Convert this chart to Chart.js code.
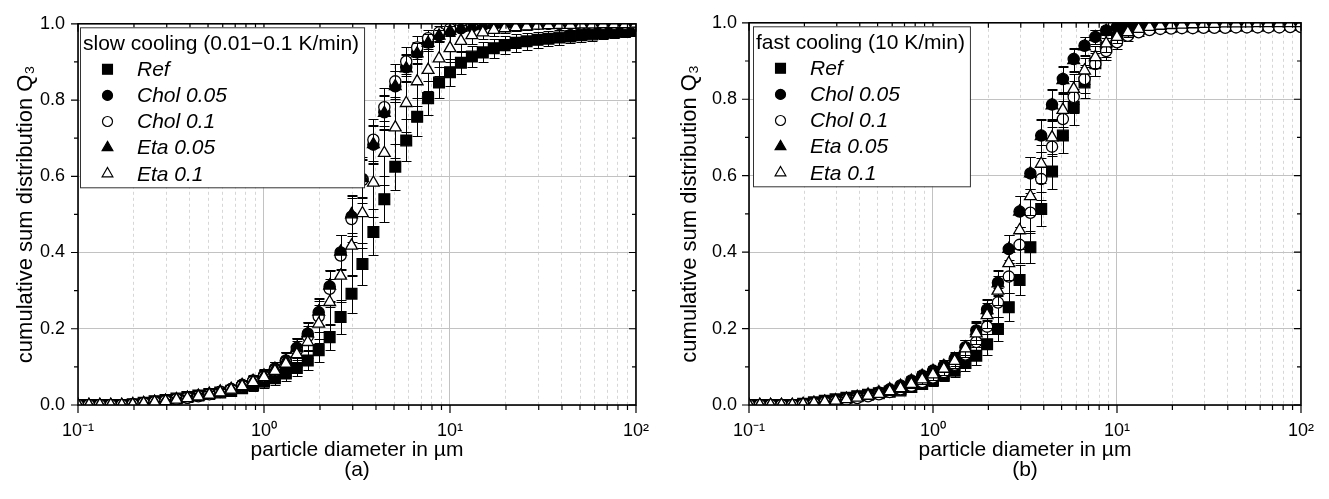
<!DOCTYPE html>
<html>
<head>
<meta charset="utf-8">
<script src="https://cdn.jsdelivr.net/npm/chart.js@4.4.0/dist/chart.umd.min.js"></script>
<style>
  html, body { margin: 0; padding: 0; background: #fff; }
  #wrap { position: relative; width: 1329px; height: 499px; }
  .panel { position: absolute; top: 0; }
  #panelA { left: 0; }
  #panelB { left: 664px; }
</style>
</head>
<body>
<div id="wrap">
  <div class="panel" id="panelA"><canvas id="chartA" width="664" height="499"></canvas></div>
  <div class="panel" id="panelB"><canvas id="chartB" width="665" height="499"></canvas></div>
</div>
<script>
// particle size classes (µm), 17 per decade
const sizes = [
  0.1, 0.1145, 0.1311, 0.1501, 0.1719, 0.1968, 0.2254, 0.2581, 0.2955, 0.3383, 0.3874, 0.4436, 0.508,
  0.5817, 0.666, 0.7627, 0.8733, 1.0, 1.145, 1.311, 1.501, 1.719, 1.968, 2.254, 2.581, 2.955,
  3.383, 3.874, 4.436, 5.08, 5.817, 6.66, 7.627, 8.733, 10.0, 11.45, 13.11, 15.01, 17.19,
  19.68, 22.54, 25.81, 29.55, 33.83, 38.74, 44.36, 50.8, 58.17, 66.6, 76.27, 87.33, 100.0
];

const seriesNames = ['Ref', 'Chol 0.05', 'Chol 0.1', 'Eta 0.05', 'Eta 0.1'];

// (a) slow cooling
const refA = [0,0,0,0,0,0.002, 0.006,0.010,0.013,0.017,0.021,0.025,0.029,0.033,0.037,0.044,0.052,
  0.061,0.070,0.083,0.097,0.117,0.144,0.178,0.231,0.292,0.370,0.454,
  0.540,0.625,0.694,0.756,0.805,0.846,0.873,0.898,0.914,0.925,0.936,
  0.944,0.950,0.954,0.958,0.961,0.964,0.967,0.970,0.972,0.975,0.977,0.979,0.981];
const chol05A = [0,0,0,0,0,0.002, 0.005,0.008,0.011,0.015,0.019,0.024,0.029,0.035,0.042,0.053,0.064,
  0.078,0.096,0.117,0.150,0.187,0.243,0.311,0.400,0.494,0.593,0.683,
  0.768,0.836,0.886,0.925,0.951,0.970,0.981,0.988,0.993,0.996,0.998,
  0.999,1,1,1,1,1,1,1,1,1,1,1,1];
const chol1A = [0,0,0,0,0,0.002, 0.005,0.008,0.011,0.015,0.019,0.023,0.028,0.034,0.041,0.051,0.062,
  0.075,0.092,0.113,0.143,0.180,0.232,0.305,0.392,0.488,0.590,0.696,
  0.781,0.849,0.901,0.938,0.962,0.977,0.987,0.993,0.996,0.998,0.999,
  1,1,1,1,1,1,1,1,1,1,1,1,1];
const eta05A = [0,0,0,0,0,0.002, 0.005,0.008,0.011,0.015,0.019,0.024,0.029,0.035,0.042,0.052,0.063,
  0.077,0.095,0.116,0.149,0.188,0.245,0.313,0.402,0.500,0.595,0.684,
  0.766,0.836,0.883,0.922,0.950,0.969,0.981,0.989,0.994,0.997,0.998,
  0.999,1,1,1,1,1,1,1,1,1,1,1,1];
const eta1A = [0,0,0,0,0,0.001, 0.004,0.007,0.010,0.014,0.018,0.022,0.027,0.033,0.040,0.049,0.060,
  0.073,0.089,0.108,0.133,0.165,0.213,0.270,0.339,0.418,0.503,0.583,
  0.661,0.728,0.792,0.849,0.879,0.909,0.936,0.955,0.970,0.977,0.984,
  0.988,0.991,0.993,0.995,0.996,0.997,0.997,0.998,0.998,0.999,0.999,0.999,1];

const errRefA = [0,0,0,0,0,0.001, 0.002,0.003,0.004,0.005,0.006,0.007,0.008,0.009,0.010,0.012,0.014,
  0.016,0.018,0.020,0.022,0.025,0.030,0.035,0.045,0.050,0.055,0.060,
  0.060,0.060,0.055,0.050,0.045,0.040,0.035,0.030,0.028,0.026,0.025,
  0.024,0.023,0.022,0.021,0.020,0.019,0.018,0.017,0.016,0.015,0.014,0.013,0.012];
const errChol05A = [0,0,0,0,0,0.001, 0.002,0.003,0.004,0.005,0.006,0.007,0.008,0.009,0.010,0.012,0.014,
  0.016,0.018,0.022,0.026,0.030,0.035,0.040,0.045,0.050,0.050,0.050,
  0.045,0.040,0.035,0.028,0.022,0.016,0.012,0.008,0.006,0.004,0.003,
  0.002,0.002,0.001,0,0,0,0,0,0,0,0,0,0];
const errChol1A = [0,0,0,0,0,0.001, 0.002,0.003,0.004,0.005,0.006,0.007,0.008,0.009,0.011,0.013,0.015,
  0.018,0.021,0.025,0.030,0.035,0.040,0.048,0.055,0.060,0.060,0.055,
  0.050,0.045,0.038,0.030,0.022,0.016,0.011,0.008,0.006,0.004,0.003,
  0.002,0.001,0,0,0,0,0,0,0,0,0,0,0];
const errEta05A = [0,0,0,0,0,0.001, 0.002,0.003,0.004,0.005,0.006,0.007,0.008,0.009,0.010,0.012,0.014,
  0.016,0.018,0.022,0.026,0.030,0.035,0.040,0.045,0.050,0.050,0.050,
  0.045,0.040,0.035,0.028,0.022,0.016,0.012,0.008,0.006,0.004,0.003,
  0.002,0.002,0.001,0,0,0,0,0,0,0,0,0,0];
const errEta1A = [0,0,0,0,0,0.001, 0.002,0.003,0.004,0.005,0.006,0.008,0.009,0.010,0.012,0.014,0.016,
  0.019,0.023,0.028,0.034,0.042,0.050,0.060,0.070,0.080,0.090,0.090,
  0.085,0.080,0.075,0.065,0.055,0.045,0.035,0.028,0.022,0.018,0.015,
  0.012,0.010,0.008,0.007,0.006,0.005,0.004,0.004,0.003,0.003,0.002,0.002,0.002];

// (b) fast cooling
const refB = [0,0,0,0,0,0.003, 0.007,0.011,0.015,0.019,0.023,0.027,0.031,0.035,0.038,0.047,0.055,
  0.064,0.077,0.090,0.110,0.129,0.159,0.199,0.256,0.327,0.413,0.513,
  0.611,0.705,0.780,0.844,0.894,0.936,0.960,0.975,0.983,0.987,0.989,
  0.990,0.991,0.991,0.992,0.992,0.992,0.993,0.993,0.993,0.993,0.994,0.994,0.994];
const chol05B = [0,0,0,0,0,0.002, 0.005,0.008,0.012,0.016,0.021,0.027,0.033,0.041,0.051,0.064,0.077,
  0.090,0.103,0.121,0.151,0.195,0.250,0.320,0.408,0.506,0.606,0.705,
  0.786,0.853,0.905,0.940,0.963,0.980,0.989,0.995,0.998,0.999,1,
  1,1,1,1,1,1,1,1,1,1,1,1,1];
const chol1B = [0,0,0,0,0,0.002, 0.004,0.007,0.010,0.014,0.018,0.023,0.028,0.034,0.041,0.050,0.060,
  0.072,0.086,0.105,0.132,0.165,0.205,0.268,0.336,0.419,0.503,0.591,
  0.676,0.748,0.806,0.853,0.892,0.926,0.949,0.966,0.975,0.981,0.984,
  0.985,0.986,0.986,0.987,0.987,0.987,0.988,0.988,0.988,0.988,0.988,0.989,0.989];
const eta05B = [0,0,0,0,0,0.002, 0.005,0.008,0.012,0.016,0.021,0.027,0.033,0.041,0.050,0.063,0.076,
  0.089,0.102,0.120,0.150,0.193,0.248,0.318,0.408,0.506,0.606,0.703,
  0.784,0.850,0.902,0.938,0.962,0.979,0.989,0.995,0.998,0.999,1,
  1,1,1,1,1,1,1,1,1,1,1,1,1];
const eta1B = [0,0,0,0,0,0.002, 0.005,0.008,0.011,0.015,0.019,0.024,0.029,0.036,0.044,0.055,0.067,
  0.080,0.095,0.115,0.148,0.187,0.235,0.299,0.371,0.457,0.546,0.631,
  0.700,0.772,0.827,0.875,0.910,0.946,0.963,0.975,0.984,0.989,0.992,
  0.994,0.995,0.996,0.997,0.997,0.998,0.998,0.998,0.999,0.999,0.999,0.999,0.999];

const errRefB = [0,0,0,0,0,0.001, 0.002,0.003,0.004,0.005,0.006,0.007,0.008,0.009,0.010,0.011,0.012,
  0.013,0.015,0.017,0.020,0.024,0.028,0.032,0.036,0.040,0.042,0.045,
  0.045,0.045,0.048,0.040,0.032,0.025,0.018,0.012,0.008,0.006,0.005,
  0.004,0.004,0.004,0.004,0.004,0.004,0.004,0.004,0.004,0.004,0.004,0.004,0.004];
const errChol05B = [0,0,0,0,0,0.001, 0.002,0.003,0.004,0.005,0.006,0.007,0.008,0.009,0.010,0.011,0.012,
  0.013,0.015,0.017,0.020,0.024,0.028,0.032,0.036,0.040,0.042,0.042,
  0.040,0.035,0.030,0.024,0.018,0.012,0.008,0.005,0.003,0.002,0.001,
  0,0,0,0,0,0,0,0,0,0,0,0,0];
const errChol1B = [0,0,0,0,0,0.001, 0.002,0.003,0.004,0.005,0.006,0.007,0.008,0.009,0.010,0.011,0.012,
  0.014,0.016,0.019,0.023,0.028,0.033,0.038,0.043,0.048,0.052,0.055,
  0.052,0.048,0.042,0.036,0.030,0.024,0.018,0.013,0.010,0.008,0.007,
  0.006,0.006,0.005,0.005,0.005,0.005,0.005,0.005,0.005,0.005,0.005,0.005,0.005];
const errEta05B = [0,0,0,0,0,0.001, 0.002,0.003,0.004,0.005,0.006,0.007,0.008,0.009,0.010,0.011,0.012,
  0.013,0.015,0.017,0.020,0.024,0.028,0.032,0.036,0.040,0.042,0.042,
  0.040,0.035,0.030,0.024,0.018,0.012,0.008,0.005,0.003,0.002,0.001,
  0,0,0,0,0,0,0,0,0,0,0,0,0];
const errEta1B = [0,0,0,0,0,0.001, 0.002,0.003,0.004,0.005,0.006,0.007,0.008,0.009,0.010,0.011,0.012,
  0.014,0.016,0.019,0.023,0.028,0.033,0.038,0.043,0.048,0.050,0.050,
  0.048,0.044,0.040,0.034,0.028,0.022,0.016,0.012,0.009,0.007,0.006,
  0.005,0.004,0.004,0.003,0.003,0.003,0.003,0.003,0.003,0.003,0.003,0.003,0.003];

// log axis ticks, decades get labels
const xTickValues = [0.1,0.2,0.3,0.4,0.5,0.6,0.7,0.8,0.9, 1,2,3,4,5,6,7,8,9, 10,20,30,40,50,60,70,80,90, 100];
const decadeLabels = { '-1': '10\u207B\u00B9', '0': '10\u2070', '1': '10\u00B9', '2': '10\u00B2' };

const FONT = "'Liberation Sans', Arial, sans-serif";

// marker look per series (same order as seriesNames)
const markerStyles = [
  { pointStyle: 'rect', radius: 7.6, fill: '#000' },
  { pointStyle: 'circle', radius: 5.6, fill: '#000' },
  { pointStyle: 'circle', radius: 5.6, fill: '#fff' },
  { pointStyle: 'triangle', radius: 6.8, fill: '#000' },
  { pointStyle: 'triangle', radius: 6.8, fill: '#fff' }
];

function isDecade(v) {
  const l = Math.log10(v);
  return Math.abs(l - Math.round(l)) < 1e-6;
}

// vertical error bars with caps, drawn right before each dataset
const errorBars = {
  id: 'errorBars',
  beforeDatasetDraw(chart, args) {
    const ds = chart.data.datasets[args.index];
    if (!ds.errors) return;
    const {ctx, chartArea, scales: {x, y}} = chart;
    ctx.save();
    Chart.helpers.clipArea(ctx, chartArea);
    ctx.strokeStyle = '#000';
    ctx.lineWidth = 1;
    ctx.beginPath();
    ds.data.forEach((p, i) => {
      const e = ds.errors[i];
      if (!e) return;
      const px = Math.round(x.getPixelForValue(p.x)) + 0.5;
      const top = Math.round(y.getPixelForValue(p.y + e)) + 0.5;
      const bot = Math.round(y.getPixelForValue(p.y - e)) + 0.5;
      ctx.moveTo(px, top); ctx.lineTo(px, bot);
      ctx.moveTo(px - 5, top); ctx.lineTo(px + 5, top);
      ctx.moveTo(px - 5, bot); ctx.lineTo(px + 5, bot);
    });
    ctx.stroke();
    Chart.helpers.unclipArea(ctx);
    ctx.restore();
  }
};

// black frame with inner/outer tick marks
const frame = {
  id: 'frame',
  afterDatasetsDraw(chart) {
    const {ctx, chartArea: a, scales: {x, y}} = chart;
    ctx.save();
    ctx.strokeStyle = '#000';
    ctx.lineWidth = 1.2;
    ctx.beginPath();
    x.ticks.forEach(t => {
      const px = x.getPixelForValue(t.value);
      const len = t.major ? 8 : 5;
      ctx.moveTo(px, a.bottom); ctx.lineTo(px, a.bottom + len);
      ctx.moveTo(px, a.top); ctx.lineTo(px, a.top + len);
    });
    y.ticks.forEach(t => {
      const py = y.getPixelForValue(t.value);
      const len = Math.round(t.value * 10) % 2 === 0 ? 7 : 4;
      ctx.moveTo(a.left, py); ctx.lineTo(a.left - len, py);
      ctx.moveTo(a.right, py); ctx.lineTo(a.right - len, py);
    });
    ctx.stroke();
    ctx.lineWidth = 1.6;
    ctx.strokeRect(a.left, a.top, a.right - a.left, a.bottom - a.top);
    ctx.restore();
  }
};

// boxed legend inside the plot, top left
const boxLegend = {
  id: 'boxLegend',
  afterDraw(chart, args, opts) {
    const {ctx, chartArea: a} = chart;
    const x0 = a.left + opts.dx, y0 = a.top + 3.5;
    ctx.save();
    ctx.font = `21px ${FONT}`;
    const w = ctx.measureText(opts.title).width + 8;
    const h = 160;
    ctx.fillStyle = '#fff';
    ctx.fillRect(x0, y0, w, h);
    ctx.strokeStyle = '#333';
    ctx.lineWidth = 1;
    ctx.strokeRect(x0 + 0.5, y0 + 0.5, w, h);
    ctx.fillStyle = '#000';
    ctx.textBaseline = 'middle';
    ctx.fillText(opts.title, x0 + 3, y0 + 17);
    ctx.font = `italic 21px ${FONT}`;
    chart.data.datasets.forEach((ds, i) => {
      const cy = y0 + 42 + i * 26.1;
      const m = markerStyles[i];
      ctx.fillStyle = m.fill;
      ctx.strokeStyle = '#000';
      ctx.lineWidth = 1.2;
      Chart.helpers.drawPoint(ctx, {pointStyle: m.pointStyle, radius: m.radius - 0.6, borderWidth: 1.2, rotation: 0}, x0 + 27.5, cy);
      ctx.fillStyle = '#000';
      ctx.fillText(ds.label, x0 + 57, cy + 1);
    });
    ctx.restore();
  }
};

function buildDatasets(values, errors) {
  return seriesNames.map((name, i) => ({
    label: name,
    data: sizes.map((s, j) => ({x: s, y: values[i][j]})),
    errors: errors[i],
    showLine: false,
    pointStyle: markerStyles[i].pointStyle,
    pointRadius: markerStyles[i].radius,
    pointBackgroundColor: markerStyles[i].fill,
    pointBorderColor: '#000',
    pointBorderWidth: 1.3,
    order: seriesNames.length - i
  }));
}

function makeChart(id, values, errors, legendTitle, letter, yWidth, padRight, legendDx, yTickPad) {
  return new Chart(document.getElementById(id), {
    type: 'scatter',
    data: { datasets: buildDatasets(values, errors) },
    plugins: [errorBars, frame, boxLegend],
    options: {
      responsive: false,
      animation: false,
      events: [],
      layout: { padding: { top: 22, right: padRight, bottom: 0, left: 0 } },
      plugins: {
        legend: { display: false },
        tooltip: { enabled: false },
        boxLegend: { title: legendTitle, dx: legendDx }
      },
      scales: {
        x: {
          type: 'logarithmic',
          min: 0.1,
          max: 100,
          afterBuildTicks: s => { s.ticks = xTickValues.map(v => ({value: v, major: isDecade(v)})); },
          afterFit: s => { s.height = 94; },
          ticks: {
            autoSkip: false,
            maxRotation: 0,
            padding: 15,
            color: '#000',
            font: { family: FONT, size: 18 },
            callback: v => isDecade(v) ? decadeLabels[String(Math.round(Math.log10(v)))] : ''
          },
          grid: {
            drawTicks: false,
            lineWidth: 1,
            color: c => (c.tick && isDecade(c.tick.value)) ? '#c2c2c2' : '#d6d6d6'
          },
          border: {
            display: false,
            dash: c => (c.tick && !isDecade(c.tick.value)) ? [3, 3] : []
          },
          title: {
            display: true,
            text: ['particle diameter in \u00B5m', letter],
            color: '#000',
            font: { family: FONT, size: 21, lineHeight: 0.95 },
            padding: { top: 0, bottom: 19 }
          }
        },
        y: {
          min: 0,
          max: 1,
          afterFit: s => { s.width = yWidth; },
          ticks: {
            stepSize: 0.1,
            autoSkip: false,
            padding: yTickPad,
            color: '#000',
            font: { family: FONT, size: 18 },
            callback: v => Math.round(v * 10) % 2 === 0 ? v.toFixed(1) : ''
          },
          grid: {
            drawTicks: false,
            lineWidth: 1,
            color: c => (c.tick && Math.round(c.tick.value * 10) % 2 === 0) ? '#c2c2c2' : 'rgba(0,0,0,0)'
          },
          border: { display: false },
          title: {
            display: true,
            text: 'cumulative sum distribution Q\u2083',
            color: '#000',
            font: { family: FONT, size: 22 },
            padding: { top: 13, bottom: 0 }
          }
        }
      }
    }
  });
}

makeChart('chartA',
  [refA, chol05A, chol1A, eta05A, eta1A],
  [errRefA, errChol05A, errChol1A, errEta05A, errEta1A],
  'slow cooling (0.01\u22120.1 K/min)', '(a)', 78, 20, 2, 13);

makeChart('chartB',
  [refB, chol05B, chol1B, eta05B, eta1B],
  [errRefB, errChol05B, errChol1B, errEta05B, errEta1B],
  'fast cooling (10 K/min)', '(b)', 85, 13, 4, 12);
</script>
</body>
</html>
